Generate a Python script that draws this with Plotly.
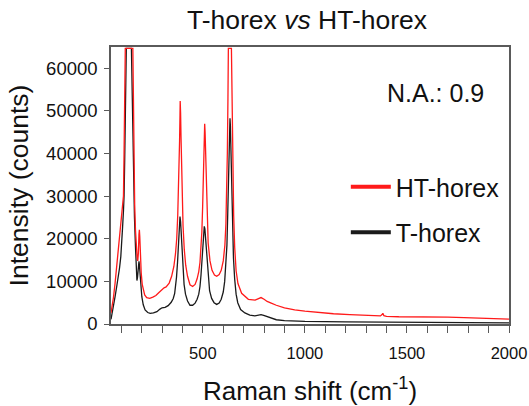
import plotly.graph_objects as go

# ---- data ----
ht_shift = [50, 55, 62, 70, 78, 86, 95, 103, 108, 111, 114, 117, 120, 157, 159, 162, 166, 170, 174, 178,
            181, 184, 187, 189, 191, 194, 198, 203, 208, 215, 225, 240, 255, 270, 285, 300, 310, 320, 335, 347,
            358, 366, 372, 377, 381, 384, 386, 388, 389, 391, 393, 396, 399, 403, 409, 416, 425, 437, 450, 462,
            472, 480, 486, 491, 495, 499, 502, 505, 507, 509, 511, 514, 517, 521, 526, 535, 545, 557, 568, 580,
            590, 600, 608, 613, 617, 620, 623, 625, 640, 643, 647, 651, 656, 663, 672, 690, 723, 756, 770, 785,
            800, 815, 835, 860, 900, 950, 1000, 1060, 1140, 1220, 1280, 1340, 1370, 1378, 1382, 1387, 1400, 1460,
            1550, 1620, 1700, 1780, 1850, 1930, 2000]
ht_counts = [2600, 4000, 6200, 9600, 13400, 17400, 21000, 24500, 27500, 30000, 40000, 54000, 64700, 64700, 52000,
             38000, 28000, 22000, 18000, 15600, 14800, 16500, 21000, 22100, 20500, 16000, 12000, 9300, 7800, 6800,
             6200, 6000, 6300, 6700, 7400, 8200, 8500, 8700, 9600, 11200, 13500, 16500, 20000, 25500, 31500, 37500,
             43000, 49000, 52300, 49500, 44000, 36000, 29500, 23000, 17500, 13800, 11200, 9200, 8800, 9300, 10600,
             12300, 14500, 17500, 21500, 27500, 33500, 41000, 45000, 47000, 45000, 38500, 31500, 24500, 19000, 14800,
             12600, 11500, 11200, 11600, 12600, 14800, 18500, 23500, 31000, 40000, 53000, 64700, 64700, 50000, 36000,
             25500, 18000, 12500, 9500, 7200, 5800, 5600, 5900, 6200, 5800, 5300, 4900, 4400, 3800, 3300, 3000,
             2700, 2400, 2200, 2050, 1950, 1900, 2200, 2500, 1950, 1800, 1700, 1700, 1700, 1600, 1500, 1400, 1250,
             1150]

t_shift = [50, 55, 62, 70, 78, 86, 92, 98, 103, 107, 111, 114, 117, 120, 125, 150, 155, 160, 165, 170, 174, 177,
           180, 184, 187, 189, 192, 196, 201, 208, 217, 230, 242, 258, 275, 290, 300, 315, 330, 345, 355, 362, 367,
           371, 376, 381, 385, 388, 391, 394, 398, 402, 408, 415, 425, 437, 450, 462, 472, 480, 486, 491, 495, 499,
           503, 507, 510, 513, 517, 521, 526, 533, 543, 555, 568, 580, 590, 600, 607, 613, 618, 622, 626, 629, 631,
           633, 635, 638, 641, 645, 650, 656, 663, 671, 685, 706, 730, 755, 772, 785, 798, 815, 835, 860, 900, 1000,
           1200, 1500, 1800, 2000]
t_counts = [1100, 2300, 4200, 6400, 8800, 11100, 13200, 15800, 19000, 22900, 26500, 30000, 38000, 50000, 64700,
            64700, 50000, 35000, 25000, 18000, 13000, 10200, 11000, 13500, 14700, 14000, 11500, 8800, 6400, 4500,
            3300, 2700, 2500, 2600, 2900, 3500, 3800, 3900, 4300, 5100, 6000, 7200, 8800, 11000, 14500, 19000, 23000,
            25200, 24000, 21000, 16500, 12800, 9300, 7000, 5400, 4400, 4400, 4900, 5800, 7000, 8800, 11500, 14500,
            18000, 21000, 22900, 22300, 20500, 17000, 13500, 10500, 7800, 6000, 5000, 4600, 4900, 5800, 7500, 10000,
            13500, 18500, 26000, 35000, 42000, 46500, 48300, 46500, 41000, 33000, 24000, 15500, 10500, 7000, 5000,
            3400, 2600, 2100, 1900, 2000, 2200, 2000, 1700, 1300, 1000, 800, 600, 500, 400, 320, 250]

x_ticks = [500, 1000, 1500, 2000]
y_ticks = [0, 10000, 20000, 30000, 40000, 50000, 60000]

RED = "#ff1a1a"
BLACK = "#1a1a1a"
FONT = "Liberation Sans, Arial, sans-serif"

fig = go.Figure()
fig.add_trace(go.Scatter(x=t_shift, y=t_counts, mode="lines", line=dict(color=BLACK, width=1.3),
                         name="T-horex", legendgroup="t", showlegend=False))
fig.add_trace(go.Scatter(x=ht_shift, y=ht_counts, mode="lines", line=dict(color=RED, width=1.3),
                         name="HT-horex", legendgroup="ht", showlegend=False))
# legend entries (thicker key lines as in the reference)
fig.add_trace(go.Scatter(x=[None], y=[None], mode="lines", line=dict(color=RED, width=4),
                         name="HT-horex", legendgroup="ht", legendrank=1))
fig.add_trace(go.Scatter(x=[None], y=[None], mode="lines", line=dict(color=BLACK, width=4),
                         name="T-horex", legendgroup="t", legendrank=2))

axis_common = dict(showline=True, linecolor="#5a5a5a", linewidth=1.5, mirror=True,
                   showgrid=False, zeroline=False, ticks="outside", tickcolor="#5a5a5a",
                   automargin=False)

fig.update_xaxes(range=[50, 2000], tickvals=x_ticks, ticklen=7, tickwidth=1.2,
                 tickfont=dict(size=16.5, color="#111", family=FONT),
                 minor=dict(dtick=100, tick0=0, ticks="outside", ticklen=7, tickwidth=1.2, tickcolor="#5a5a5a"),
                 ticklabelstandoff=6,
                 title=dict(text="Raman shift (cm<sup>-1</sup>)", font=dict(size=26, family=FONT, color="#111"),
                            standoff=30),
                 **axis_common)
fig.update_yaxes(range=[0, 65000], tickvals=y_ticks, tickformat="d", ticklen=5, tickwidth=1.2,
                 tickfont=dict(size=18.5, color="#111", family=FONT),
                 ticklabelstandoff=3,
                 title=dict(text="Intensity (counts)", font=dict(size=26.5, family=FONT, color="#111"),
                            standoff=10),
                 **axis_common)

fig.update_layout(
    width=529, height=406,
    margin=dict(l=111, r=20, t=47, b=82),
    paper_bgcolor="white", plot_bgcolor="white",
    font=dict(family=FONT, color="#111"),
    title=dict(text="T-horex <i>vs</i> HT-horex", x=307 / 529, xanchor="center",
               y=1 - 20 / 406, yanchor="middle", font=dict(size=26.5, family=FONT, color="#111")),
    legend=dict(x=0.59, y=1 - (164 - 47) / 277, xanchor="left", yanchor="top",
                font=dict(size=25, family=FONT, color="#111"), bgcolor="rgba(0,0,0,0)",
                tracegroupgap=10, itemwidth=40),
    annotations=[dict(text="N.A.: 0.9", x=(486 - 111) / 398, y=1 - (93 - 47) / 277, xref="paper", yref="paper",
                      xanchor="right", yanchor="middle", showarrow=False,
                      font=dict(size=25, family=FONT, color="#111"))],
)

fig.write_html("out.html", config={"displayModeBar": False},
               post_script="document.body.style.margin='0';document.body.style.overflow='hidden';")
